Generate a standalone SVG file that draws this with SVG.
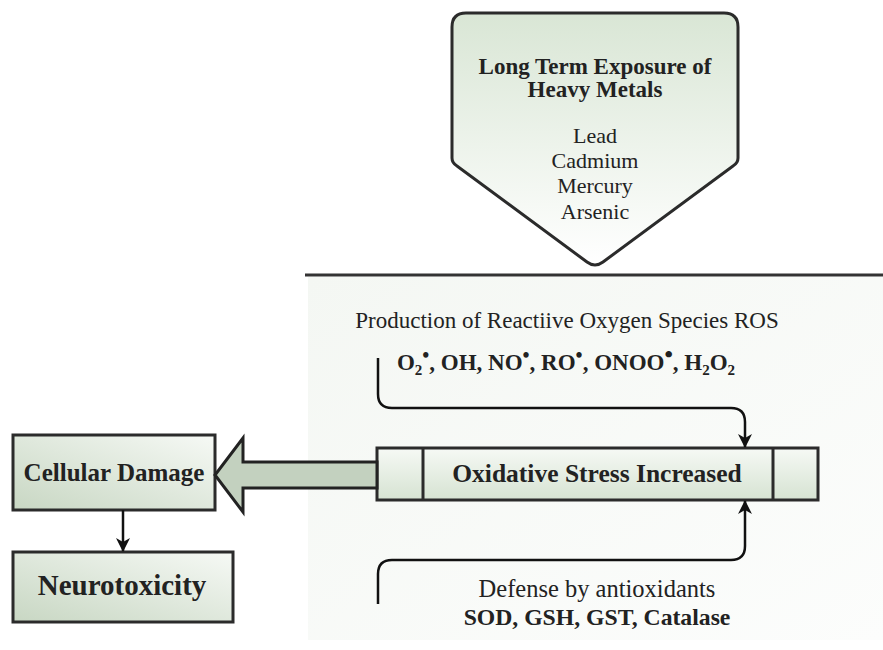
<svg xmlns="http://www.w3.org/2000/svg" width="883" height="650" viewBox="0 0 883 650">
<defs>
<linearGradient id="gPent" x1="0" y1="0" x2="0" y2="1">
<stop offset="0" stop-color="#d9e6d5"/><stop offset="1" stop-color="#ffffff"/>
</linearGradient>
<linearGradient id="gBox" x1="0" y1="1" x2="1" y2="0">
<stop offset="0" stop-color="#c8d7c3"/><stop offset="1" stop-color="#f6f9f5"/>
</linearGradient>
<linearGradient id="gOx" x1="0" y1="0" x2="0" y2="1">
<stop offset="0" stop-color="#f6f9f5"/><stop offset="1" stop-color="#d6e3d2"/>
</linearGradient>
<linearGradient id="gPanel" x1="0" y1="0" x2="1" y2="1">
<stop offset="0" stop-color="#f4f7f3"/><stop offset="1" stop-color="#fcfdfc"/>
</linearGradient>
<marker id="ah" viewBox="0 0 14 14" refX="13" refY="7" markerWidth="14" markerHeight="14" markerUnits="userSpaceOnUse" orient="auto">
<path d="M0,0 L14,7 L0,14 L4,7 z" fill="#111"/>
</marker>
<style>
.bx{stroke:#2b2b2b;stroke-width:3;}
.ln{fill:none;stroke:#111;stroke-width:2.5;}
</style>
</defs>

<rect x="308" y="277" width="575" height="363" fill="url(#gPanel)"/>
<line x1="305" y1="275" x2="883" y2="275" stroke="#333" stroke-width="3"/>

<g id="ros">
<text x="567" y="328" font-size="23" font-family="Times New Roman, Liberation Serif, serif" text-anchor="middle" fill="#222">Production of Reactiive Oxygen Species ROS</text>
<text x="566" y="370" font-size="23" font-family="Liberation Serif" font-weight="bold" text-anchor="middle" fill="#222">O<tspan font-size="15" dy="5">2</tspan><tspan font-size="20" dy="-13">•</tspan><tspan dy="8">, OH, NO</tspan><tspan font-size="20" dy="-8">•</tspan><tspan dy="8">, RO</tspan><tspan font-size="20" dy="-8">•</tspan><tspan dy="8">, ONOO</tspan><tspan font-size="24" dy="-8">•</tspan><tspan dy="8">, H</tspan><tspan font-size="15" dy="5">2</tspan><tspan dy="-5">O</tspan><tspan font-size="15" dy="5">2</tspan></text>
</g>

<g id="defense">
<text x="597" y="597" font-size="24.5" font-family="Times New Roman, Liberation Serif, serif" text-anchor="middle" fill="#222">Defense by antioxidants</text>
<text x="597" y="625" font-size="23.7" font-family="Liberation Serif" font-weight="bold" text-anchor="middle" fill="#222">SOD, GSH, GST, Catalase</text>
</g>

<g id="exposure">
<path d="M466,13 H724 Q738,13 738,27 V158 Q738,163 733,166 L603,262 Q595,268 587,262 L457,166 Q452,163 452,158 V27 Q452,13 466,13 Z" fill="url(#gPent)" class="bx"/>
<text x="595" y="143" font-size="22" font-family="Times New Roman, Liberation Serif, serif" text-anchor="middle" fill="#222">Lead</text>
<text x="595" y="168" font-size="22" font-family="Times New Roman, Liberation Serif, serif" text-anchor="middle" fill="#222">Cadmium</text>
<text x="595" y="193" font-size="22" font-family="Times New Roman, Liberation Serif, serif" text-anchor="middle" fill="#222">Mercury</text>
<text x="595" y="219" font-size="22" font-family="Times New Roman, Liberation Serif, serif" text-anchor="middle" fill="#222">Arsenic</text>
<text x="595" y="74" font-size="23" font-family="Liberation Serif" font-weight="bold" text-anchor="middle" fill="#222">Long Term Exposure of</text>
<text x="595" y="97" font-size="23" font-family="Liberation Serif" font-weight="bold" text-anchor="middle" fill="#222">Heavy Metals</text>
</g>

<g id="oxidative">
<rect x="377" y="448" width="441" height="52" fill="url(#gOx)" class="bx"/>
<line x1="423" y1="448" x2="423" y2="500" class="bx"/>
<line x1="773" y1="448" x2="773" y2="500" class="bx"/>
<text x="597" y="482" font-size="25.5" font-family="Liberation Serif" font-weight="bold" text-anchor="middle" fill="#222">Oxidative Stress Increased</text>
</g>

<g id="cellular">
<rect x="13" y="435" width="202" height="75" fill="url(#gBox)" class="bx"/>
<text x="114" y="481" font-size="25" font-family="Liberation Serif" font-weight="bold" text-anchor="middle" fill="#222">Cellular Damage</text>
</g>

<g id="neuro">
<rect x="13" y="552" width="220" height="70" fill="url(#gBox)" class="bx"/>
<text x="122" y="595" font-size="29" font-family="Liberation Serif" font-weight="bold" text-anchor="middle" fill="#222">Neurotoxicity</text>
</g>

<g id="connectors">
<path d="M377,462 H243 V438 L215,475 L243,512 V488 H377 Z" fill="#c3d1bf" stroke="#222" stroke-width="3" stroke-linejoin="miter"/>
<path d="M378,358 V394 Q378,408 392,408 H731 Q745,408 745,422 V447" class="ln" marker-end="url(#ah)"/>
<path d="M378,604 V574 Q378,560 392,560 H731 Q745,560 745,546 V501" class="ln" marker-end="url(#ah)"/>
<path d="M123,510 V551" class="ln" stroke-width="3" marker-end="url(#ah)"/>
</g>
</svg>
